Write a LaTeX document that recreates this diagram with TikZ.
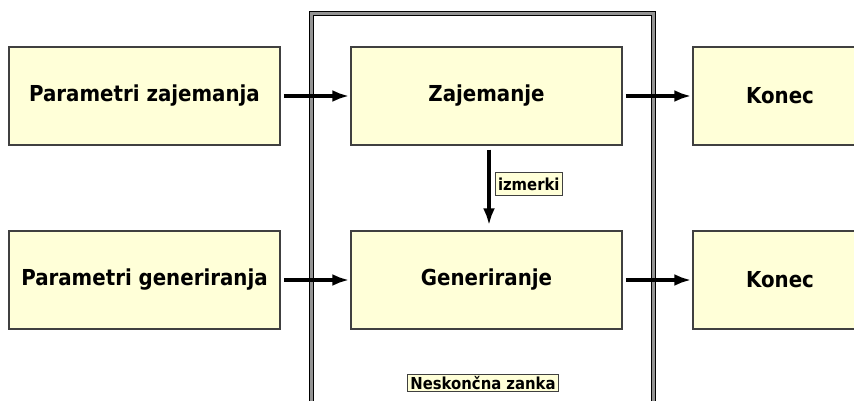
\documentclass[tikz,border=0pt]{standalone}
\usepackage{fontspec}
\setmainfont{DejaVu Sans Condensed}
\usetikzlibrary{arrows.meta}

\definecolor{boxfill}{RGB}{255,255,216}
\definecolor{boxline}{RGB}{64,64,64}

\tikzset{
  blok/.style={draw=boxline,line width=1.5pt,fill=boxfill,minimum width=271pt,minimum height=98pt,
    inner sep=0pt,font=\fontsize{22}{25}\selectfont\bfseries},
  konec/.style={blok,minimum width=174pt},
  oznaka/.style={draw=boxline,line width=1pt,fill=boxfill,inner xsep=2.5pt,inner ysep=2pt,
    font=\fontsize{16.5}{19}\selectfont\bfseries},
  tok/.style={->,line width=3.5pt,shorten <=3pt,shorten >=1pt},
}

\begin{document}
\begin{tikzpicture}[x=1pt,y=-1pt,>={Latex[length=17pt,width=12pt]}]
            \def\xl{144.5}
            \def\xm{486.5}
            \def\xr{780}
            \def\yz{96}
            \def\yg{280}
            \useasboundingbox (0,0) rectangle (854,401);
            \clip (0,0) rectangle (854,401);

            % zanka
            \draw[black,line width=1pt,double=gray!85,double distance=3pt] (311,14) rectangle (653,430);

            \node[blok] (parz) at (\xl,\yz) {Parametri zajemanja};
            \node[blok] (zaj) at (\xm,\yz) {Zajemanje};
            \node[konec] (konz) at (\xr,\yz) {Konec};

            \node[blok] (parg) at (\xl,\yg) {Parametri generiranja};
            \node[blok] (gen) at (\xm,\yg) {Generiranje};
            \node[konec] (kong) at (\xr,\yg) {Konec};

            \draw[tok] (parz) -- (zaj);
            \draw[tok] (zaj) -- (konz);
            \draw[tok] (parg) -- (gen);
            \draw[tok] (gen) -- (kong);

            \draw[tok,shorten <=4pt,shorten >=5pt] ([xshift=2.5pt]zaj.south) -- ([xshift=2.5pt]gen.north)
                node[oznaka,inner ysep=5pt,midway,anchor=west,xshift=6pt,yshift=4pt] (izm) {izmerki};

            \node[oznaka] (zanka) at (483,383) {Neskončna zanka};
\end{tikzpicture}
\end{document}
